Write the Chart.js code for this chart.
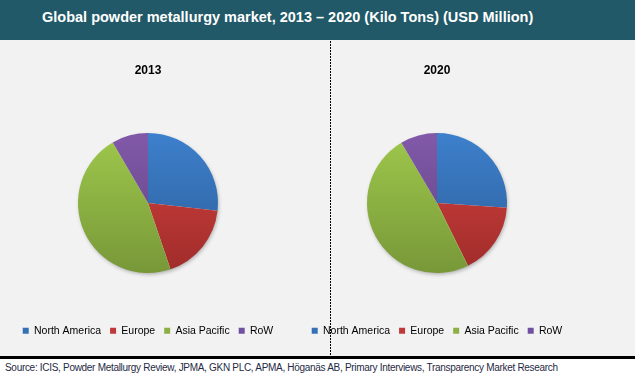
<!DOCTYPE html>
<html>
<head>
<meta charset="utf-8">
<script src="https://cdn.jsdelivr.net/npm/chart.js@4/dist/chart.umd.min.js"></script>
<style>
  body { margin: 0; width: 635px; height: 376px; background: #fff; font-family: Arial, "Liberation Sans", sans-serif; overflow: hidden; }
  #header { position: absolute; left: 0; top: 0; width: 635px; height: 40px; background: #215968; }
  #header span { position: absolute; left: 42px; top: 9px; color: #fff; font-weight: bold; font-size: 14.5px; }
  #panel { position: absolute; left: 0; top: 40px; width: 635px; height: 316px; background: #f2f2f2; }
  #divider { position: absolute; left: 330px; top: 41px; width: 1px; height: 315px;
    background: repeating-linear-gradient(to bottom, #000 0 2px, transparent 2px 3px); }
  #rule { position: absolute; left: 0; top: 356px; width: 635px; height: 3px; background: #000; }
  #source { position: absolute; left: 5px; top: 362px; font-size: 10px; letter-spacing: -0.3px; color: #1f2a44; white-space: nowrap; }
  .box { position: absolute; top: 40px; width: 296px; height: 316px; }
</style>
</head>
<body>
<div id="header"><span>Global powder metallurgy market, 2013 – 2020 (Kilo Tons) (USD Million)</span></div>
<div id="panel"></div>
<div class="box" style="left:2px"><canvas id="pie2013"></canvas></div>
<div class="box" style="left:290px"><canvas id="pie2020"></canvas></div>
<div id="divider"></div>
<div id="rule"></div>
<div id="source">Source: ICIS, Powder Metallurgy Review, JPMA, GKN PLC, APMA, Höganäs AB, Primary Interviews, Transparency Market Research</div>

<script>
// market share by region (%)
const regions = ["North America", "Europe", "Asia Pacific", "RoW"];
const share2013 = [26.8, 18.0, 46.8, 8.4];
const share2020 = [26.1, 16.6, 48.8, 8.5];

const topColors = ["#3d80cc", "#d3433f", "#9ec84c", "#8159a9"];
const bottomColors = ["#2c5d98", "#a02c2a", "#789838", "#5e437e"];
const legendColors = ["#3670b5", "#c0393a", "#8cb043", "#7150a0"];

// soft drop shadow behind the pie
const pieShadow = {
  id: "pieShadow",
  beforeDatasetsDraw(chart) {
    const arc = chart.getDatasetMeta(0).data[0];
    if (!arc) return;
    const ctx = chart.ctx;
    ctx.save();
    ctx.shadowColor = "rgba(0,0,0,0.35)";
    ctx.shadowBlur = 4;
    ctx.shadowOffsetX = 1;
    ctx.shadowOffsetY = 2;
    ctx.fillStyle = "#f2f2f2";
    ctx.beginPath();
    ctx.arc(arc.x, arc.y, arc.outerRadius - 1, 0, Math.PI * 2);
    ctx.fill();
    ctx.restore();
  }
};

function makePie(id, year, values, shift) {
  new Chart(document.getElementById(id).getContext("2d"), {
    type: "pie",
    data: {
      labels: regions,
      datasets: [{
        data: values,
        radius: 70,
        borderWidth: 0,
        backgroundColor: (c) => {
          const area = c.chart.chartArea;
          if (!area) return topColors[c.dataIndex];
          const cy = (area.top + area.bottom) / 2;
          const g = c.chart.ctx.createLinearGradient(0, cy - 70, 0, cy + 70);
          g.addColorStop(0, topColors[c.dataIndex]);
          g.addColorStop(1, bottomColors[c.dataIndex]);
          return g;
        }
      }]
    },
    options: {
      responsive: true,
      maintainAspectRatio: false,
      animation: false,
      layout: { padding: { bottom: 10, right: shift } },
      plugins: {
        title: {
          display: true,
          text: year,
          color: "#000",
          font: { family: "Arial", size: 12, weight: "bold" },
          padding: { top: 23, bottom: 12 }
        },
        legend: {
          position: "bottom",
          labels: {
            boxWidth: 6,
            boxHeight: 6,
            padding: 9,
            color: "#404040",
            font: { family: "Arial", size: 10.5 },
            generateLabels: () => regions.map((r, i) => ({
              text: r,
              fillStyle: legendColors[i],
              strokeStyle: legendColors[i],
              lineWidth: 0,
              index: i
            }))
          }
        },
        tooltip: { enabled: false }
      }
    },
    plugins: [pieShadow]
  });
}

makePie("pie2013", "2013", share2013, 4);
makePie("pie2020", "2020", share2020, 2);
</script>
</body>
</html>
